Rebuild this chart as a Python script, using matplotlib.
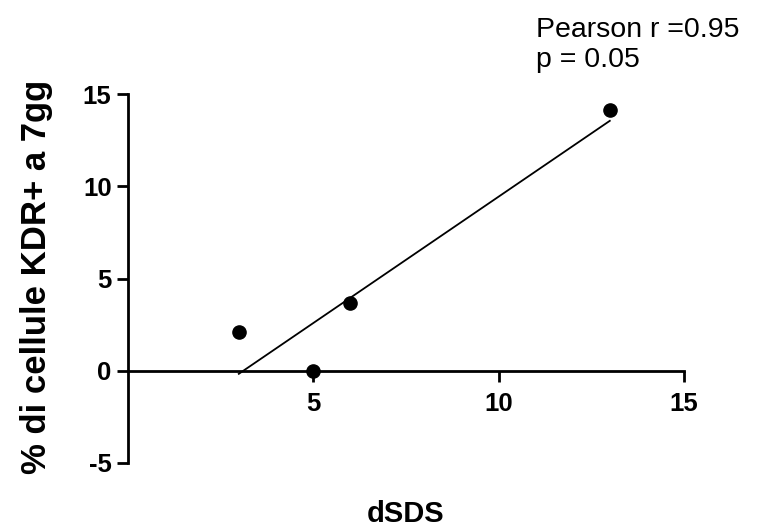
import numpy as np
import matplotlib
matplotlib.use('Agg')
import matplotlib.pyplot as plt

plt.rcParams['font.family'] = ['Liberation Sans', 'DejaVu Sans']
plt.rcParams['axes.unicode_minus'] = False

# dSDS vs % KDR+ cells at day 7
dsds = np.array([3, 5, 6, 13])
kdr_pct = np.array([2.1, 0.0, 3.65, 14.15])
x_ticks = [5, 10, 15]
y_ticks = [-5, 0, 5, 10, 15]

# least squares fit over the range of the data
slope, intercept = np.polyfit(dsds, kdr_pct, 1)
x_fit = np.array([dsds.min(), dsds.max()])
y_fit = slope * x_fit + intercept

W, H = 758, 528
fig = plt.figure(figsize=(W / 100, H / 100), dpi=100)
ax = fig.add_axes([127.5 / W, 1 - 463 / H, (684 - 127.5) / W, (463 - 94) / H])

ax.plot(x_fit, y_fit, color='black', lw=1.3)
ax.plot(dsds, kdr_pct, 'o', color='black', ms=9.5, clip_on=False, zorder=5)

ax.set_xlim(0, 15)
ax.set_ylim(-5, 15)
ax.set_xticks(x_ticks)
ax.set_yticks(y_ticks)

for side in ['top', 'right']:
    ax.spines[side].set_visible(False)
ax.spines['bottom'].set_position(('data', 0))
for side in ['left', 'bottom']:
    ax.spines[side].set_linewidth(2)
ax.tick_params(axis='both', width=2, length=8, labelsize=18.5)
ax.tick_params(axis='x', pad=7)
ax.tick_params(axis='y', pad=3.5)
for lab in ax.get_xticklabels() + ax.get_yticklabels():
    lab.set_fontweight('bold')

fig.text(37 / W, 1 - 277 / H, '% di cellule KDR+ a 7gg', rotation=90,
         ha='center', va='center', fontsize=25, fontweight='bold')
fig.text(406 / W, 1 - 522 / H, 'dSDS', ha='center', va='baseline',
         fontsize=21, fontweight='bold')

fig.text(536 / W, 1 - 37 / H, 'Pearson r =0.95', ha='left', va='baseline', fontsize=20.5)
fig.text(536 / W, 1 - 67 / H, 'p = 0.05', ha='left', va='baseline', fontsize=20.5)

fig.savefig('out.png', dpi=100)
